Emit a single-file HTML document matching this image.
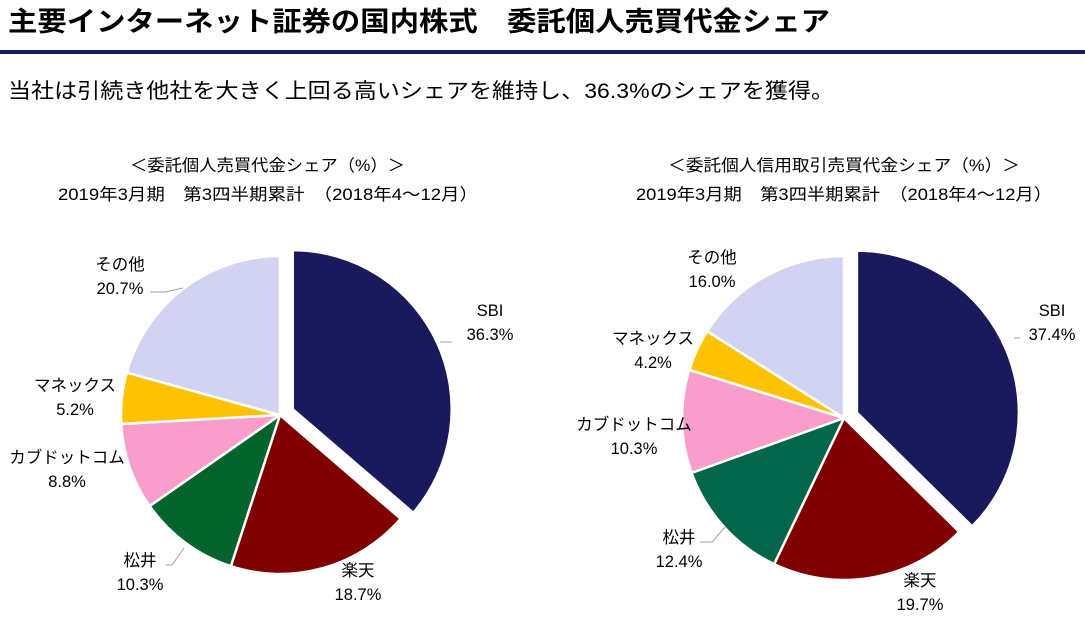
<!DOCTYPE html>
<html><head><meta charset="utf-8">
<style>
body{margin:0;width:1085px;height:619px;background:#fff;overflow:hidden;font-family:"Liberation Sans","Noto Sans CJK JP",sans-serif;}
svg{position:absolute;left:0;top:0;}
</style></head>
<body>
<svg width="1085" height="619" viewBox="0 0 1085 619" xmlns="http://www.w3.org/2000/svg">
<text x="8" y="31" font-size="27" font-weight="bold" fill="#000" textLength="822" lengthAdjust="spacingAndGlyphs">主要インターネット証券の国内株式　委託個人売買代金シェア</text>
<rect x="0" y="50" width="1085" height="4" fill="#1a1a5e"/>
<text x="8" y="98" font-size="21" fill="#000" textLength="826" lengthAdjust="spacingAndGlyphs">当社は引続き他社を大きく上回る高いシェアを維持し、36.3%のシェアを獲得。</text>
<g font-size="16.5" fill="#000">
<text x="130" y="171" textLength="275" lengthAdjust="spacingAndGlyphs">＜委託個人売買代金シェア（%）＞</text>
<text x="58" y="200" textLength="420" lengthAdjust="spacingAndGlyphs">2019年3月期　第3四半期累計　（2018年4～12月）</text>
<text x="668" y="171" textLength="352" lengthAdjust="spacingAndGlyphs">＜委託個人信用取引売買代金シェア（%）＞</text>
<text x="636" y="200" textLength="416" lengthAdjust="spacingAndGlyphs">2019年3月期　第3四半期累計　（2018年4～12月）</text>
</g>
<g id="left"></g>
<g id="right"></g>
<g id="labels" font-size="16.5" fill="#000" text-anchor="middle"></g>
<g stroke="#a0a0a0" stroke-width="1" fill="none">
<path d="M150 292 L165 292 L183 288"/>
<path d="M452 342 L440 342"/>
<path d="M166 565 L172 565 L184 548"/>
<path d="M1014 338 L1020 338"/>
<path d="M700 542 L712 542 L725 527"/>
</g>
</svg>
<script>
const categories = ["SBI","楽天","松井","カブドットコム","マネックス","その他"];
const leftValues = [36.3,18.7,10.3,8.8,5.2,20.7];
const rightValues = [37.4,19.7,12.4,10.3,4.2,16.0];
const leftColors = ["#19195c","#800000","#05642c","#f99dcb","#fdc300","#d2d2f2"];
const rightColors = ["#19195c","#800000","#03664a","#f99dcb","#fdc300","#d2d2f2"];
const leftLabelPos = [[490,316],[358,576],[140,566],[67,463],[75,391],[120,270]];
const rightLabelPos = [[1052,316],[920,586],[679,543],[634,430],[653,344],[712,263]];
const NS="http://www.w3.org/2000/svg";
function angleScale(v,total){return v/total*2*Math.PI;}
function drawPie(gid,values,colors,cx,cy,r,explode,prefix){
  const g=document.getElementById(gid);
  const total=values.reduce((a,b)=>a+b,0);
  let a0=0;
  values.forEach((v,i)=>{
    const a1=a0+angleScale(v,total);
    const mid=(a0+a1)/2;
    const off=i===0?explode:0;
    const ox=cx+off*Math.sin(mid), oy=cy-off*Math.cos(mid);
    const x0=ox+r*Math.sin(a0), y0=oy-r*Math.cos(a0);
    const x1=ox+r*Math.sin(a1), y1=oy-r*Math.cos(a1);
    const large=(a1-a0)>Math.PI?1:0;
    const p=document.createElementNS(NS,"path");
    p.setAttribute("d",`M${ox} ${oy} L${x0} ${y0} A${r} ${r} 0 ${large} 1 ${x1} ${y1} Z`);
    p.setAttribute("fill",colors[i]);
    p.setAttribute("stroke","#fff");
    p.setAttribute("stroke-width","2.5");
    
    
    g.appendChild(p);
    a0=a1;
  });
}
function drawLabels(values,pos,prefix){
  const g=document.getElementById("labels");
  values.forEach((v,i)=>{
    const t=document.createElementNS(NS,"text");
    t.setAttribute("x",pos[i][0]);t.setAttribute("y",pos[i][1]);
    
    
    const s1=document.createElementNS(NS,"tspan");
    s1.setAttribute("x",pos[i][0]);s1.textContent=categories[i];
    const s2=document.createElementNS(NS,"tspan");
    s2.setAttribute("x",pos[i][0]);s2.setAttribute("dy","24");s2.textContent=v.toFixed(1)+"%";
    t.appendChild(s1);t.appendChild(s2);g.appendChild(t);
  });
}
drawPie("left",leftValues,leftColors,280,415,159,14,"left");
drawPie("right",rightValues,rightColors,844,418,162,14,"right");
drawLabels(leftValues,leftLabelPos,"left");
drawLabels(rightValues,rightLabelPos,"right");
</script>
</body></html>
